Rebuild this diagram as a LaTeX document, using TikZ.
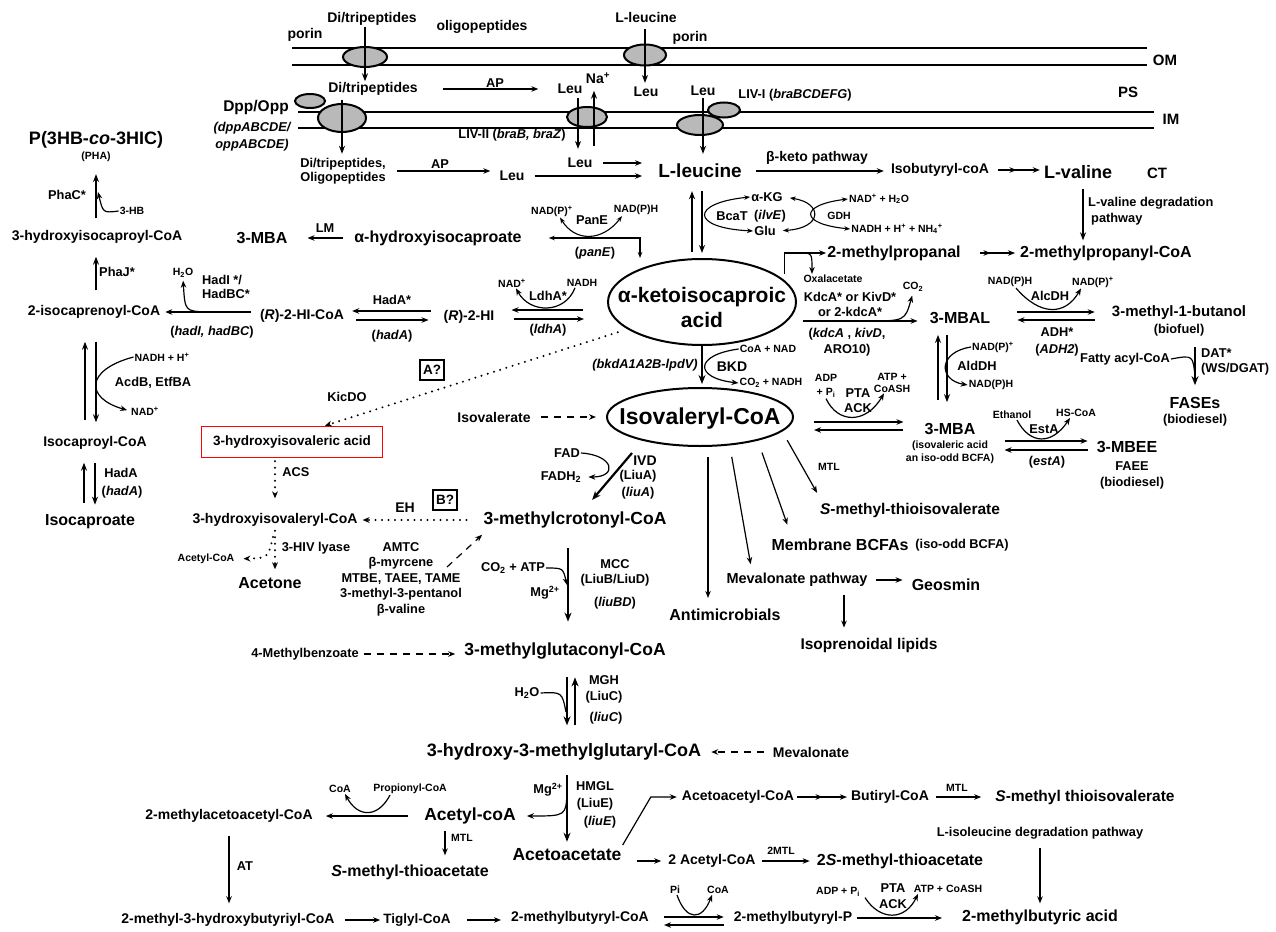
\documentclass[tikz,border=0pt]{standalone}
\usepackage{fontspec}
\setmainfont{Liberation Sans}
\usetikzlibrary{arrows.meta,shapes.geometric,decorations.markings}

\begin{document}
\begin{tikzpicture}[x=1pt,y=-1pt]
    \tikzstyle{cof}=[font=\fontsize{10.5}{12}\selectfont\bfseries,inner sep=1pt]
    \tikzstyle{enz}=[font=\fontsize{12.8}{15}\selectfont\bfseries,inner sep=1pt]
    \tikzstyle{mem}=[font=\fontsize{14}{16}\selectfont\bfseries,inner sep=1pt]
    \tikzstyle{met}=[font=\fontsize{14}{16}\selectfont\bfseries,inner sep=1pt]
    \tikzstyle{metS}=[font=\fontsize{15.5}{18}\selectfont\bfseries,inner sep=1pt]
    \tikzstyle{metM}=[font=\fontsize{16}{18}\selectfont\bfseries,inner sep=1pt]
    \tikzstyle{metL}=[font=\fontsize{17.5}{20}\selectfont\bfseries,inner sep=1pt]
    \tikzstyle{side}=[font=\fontsize{15}{17}\selectfont\bfseries,inner sep=1pt]
    \tikzstyle{qbox}=[draw,line width=1.2pt,font=\fontsize{13.5}{16}\selectfont\bfseries,minimum width=24pt,minimum height=20pt,inner sep=1pt]
    \tikzstyle{prot}=[ellipse,draw,line width=2pt,fill=gray!55,inner sep=0pt]
    \tikzstyle{pool}=[ellipse,draw,line width=2pt,inner sep=0pt]
    \tikzstyle{membr}=[line width=2.6pt]
    \tikzstyle{rx}=[-{Stealth[length=7pt,width=5.5pt]},line width=1.2pt]
    \tikzstyle{rxm}=[-{Stealth[length=8pt,width=6pt]},line width=1.7pt]
    \tikzstyle{rxb}=[{Stealth[length=6pt,width=4.5pt]}-{Stealth[length=6pt,width=4.5pt]},line width=1.1pt]
    \tikzstyle{rxthick}=[-{Stealth[length=9pt,width=7pt]},line width=2.2pt]
    \tikzstyle{dotarr}=[-{Stealth[length=7pt,width=6pt,line width=0pt]},line width=2.2pt,line cap=round,dash pattern=on 0pt off 6.5pt]
    \tikzstyle{dasharr}=[-{Stealth[length=7pt,width=5.5pt]},line width=1.2pt,dash pattern=on 7pt off 6pt]
    \tikzstyle{twostep}=[rx,postaction={decorate},decoration={markings,mark=at position 0.5 with {\arrow{Stealth[length=7pt,width=5.5pt]}}}]
    \path[use as bounding box,fill=white] (0,0) rectangle (1276,931);

    \draw[membr] (292,48) -- (1147,48);
    \draw[membr] (292,65) -- (1147,65);
    \draw[membr] (298,112) -- (1154,112);
    \draw[membr] (298,128) -- (1154,128);
    \node (por1)[prot,minimum width=44pt,minimum height=20pt] at (365,57) {};
    \node (por2)[prot,minimum width=42pt,minimum height=21pt] at (645,55) {};
    \node (dpp1)[prot,minimum width=30pt,minimum height=14pt] at (310,101) {};
    \node (dpp2)[prot,minimum width=48pt,minimum height=28pt] at (342,118) {};
    \node (liv2e)[prot,minimum width=40pt,minimum height=20pt] at (587,117) {};
    \node (liv1a)[prot,minimum width=32pt,minimum height=15pt] at (724,110) {};
    \node (liv1b)[prot,minimum width=46pt,minimum height=20pt] at (700,125) {};

    \node (porin1)[mem] at (305,35) {porin};
    \node (dit1)[mem] at (372,19) {Di/tripeptides};
    \node (oligo)[mem] at (482,27) {oligopeptides};
    \node (leutop)[mem] at (646,17) {L-leucine};
    \node (porin2)[mem] at (690,38) {porin};
    \node (om)[side] at (1165,60) {OM};
    \node (ps)[side] at (1128,92) {PS};
    \node (im)[side] at (1171,119) {IM};
    \node (ct)[side] at (1157,173) {CT};
    \node (dit2)[mem] at (373,89) {Di/tripeptides};
    \node (dpp)[metS] at (256,107) {Dpp/Opp};
    \node (dppg)[enz,align=center,font=\fontsize{12.8}{17}\selectfont\bfseries\itshape] at (252,137) {(dppABCDE/\\oppABCDE)};
    \node (dit3)[enz,align=center,font=\fontsize{12.8}{14}\selectfont\bfseries] at (343,171) {Di/tripeptides,\\Oligopeptides};
    \node (ap1)[enz] at (495,83) {AP};
    \node (ap2)[enz] at (440,164) {AP};
    \node (leu1)[mem] at (570,89) {Leu};
    \node (na)[mem] at (598,78) {Na\textsuperscript{+}};
    \node (leu2)[mem] at (646,92) {Leu};
    \node (leu3)[mem] at (703,91) {Leu};
    \node (liv1)[enz] at (795,95) {LIV-I (\textit{braBCDEFG})};
    \node (liv2)[enz] at (512,135) {LIV-II (\textit{braB, braZ})};
    \node (leu4)[mem] at (580,163) {Leu};
    \node (leu5)[mem] at (512,176) {Leu};
    \node (lleu)[font=\fontsize{19}{22}\selectfont\bfseries,inner sep=1pt] at (700,171) {L-leucine};
    \node (bketo)[mem] at (817,158) {β-keto pathway};
    \node (isob)[met] at (940,170) {Isobutyryl-coA};
    \node (lval)[font=\fontsize{18}{21}\selectfont\bfseries,inner sep=1pt] at (1078,172) {L-valine};
    \node (valdeg)[enz,align=left,anchor=west,font=\fontsize{12.8}{16}\selectfont\bfseries] at (1087,211) {L-valine degradation\\\hspace{3pt}pathway};
    \node (mpropanal)[metM] at (894,253) {2-methylpropanal};
    \node (mpropcoa)[metM] at (1106,253) {2-methylpropanyl-CoA};
    \node (akg)[enz] at (767,197) {α-KG};
    \node (bcat)[enz] at (732,216) {BcaT};
    \node (ilve)[enz] at (770,216) {(\textit{ilvE})};
    \node (glu)[enz] at (765,231) {Glu};
    \node (gdh)[cof] at (839,216) {GDH};
    \node (nadh2o)[cof] at (879,199) {NAD\textsuperscript{+} + H\textsubscript{2}O};
    \node (nadhnh)[cof] at (897,229) {NADH + H\textsuperscript{+} + NH\textsubscript{4}\textsuperscript{+}};
    \node (nadpp1)[cof] at (552,211) {NAD(P)\textsuperscript{+}};
    \node (nadph1)[cof] at (636,210) {NAD(P)H};
    \node (pane)[enz] at (592,220) {PanE};
    \node (paneg)[enz] at (595,253) {(\textit{panE})};
    \node (ahic)[metM] at (438,238) {α-hydroxyisocaproate};
    \node (mba1)[metM] at (262,238) {3-MBA};
    \node (lm)[enz] at (325,228) {LM};
    \node (kic)[pool,minimum width=188pt,minimum height=86pt] at (702,302) {};
    \node (kict)[font=\fontsize{21}{25}\selectfont\bfseries,align=center] at (702,307) {α-ketoisocaproic\\acid};
    \node (ivcoa)[pool,minimum width=186pt,minimum height=58pt] at (700,417) {};
    \node (ivct)[font=\fontsize{23}{26}\selectfont\bfseries] at (700,419) {Isovaleryl-CoA};

    \node (pha)[font=\fontsize{18}{21}\selectfont\bfseries,inner sep=1pt] at (96,140) {P(3HB-\textit{co}-3HIC)};
    \node (phab)[cof] at (96,157) {(PHA)};
    \node (phac)[enz] at (67,195) {PhaC*};
    \node (hb)[cof] at (132,211) {3-HB};
    \node (hicoa)[met] at (97,237) {3-hydroxyisocaproyl-CoA};
    \node (phaj)[enz] at (117,272) {PhaJ*};
    \node (icoa)[met] at (94,312) {2-isocaprenoyl-CoA};
    \node (h2o1)[cof] at (183,273) {H\textsubscript{2}O};
    \node (hadi)[enz,align=left,anchor=west,font=\fontsize{12.8}{14}\selectfont\bfseries] at (201,287) {HadI */\\HadBC*};
    \node (hadig)[enz] at (212,332) {(\textit{hadI, hadBC})};
    \node (rhicoa)[met] at (302,316) {(\textit{R})-2-HI-CoA};
    \node (hada1)[enz] at (392,300) {HadA*};
    \node (hadag1)[enz] at (392,336) {(\textit{hadA})};
    \node (rhi)[met] at (469,317) {(\textit{R})-2-HI};
    \node (nad1)[cof] at (512,283) {NAD\textsuperscript{+}};
    \node (nadh1)[cof] at (582,283) {NADH};
    \node (ldha)[enz] at (548,296) {LdhA*};
    \node (ldhag)[enz] at (548,330) {(\textit{ldhA})};
    \node (nadhh)[cof] at (162,357) {NADH + H\textsuperscript{+}};
    \node (acdb)[enz] at (153,383) {AcdB, EtfBA};
    \node (nad2)[cof] at (145,411) {NAD\textsuperscript{+}};
    \node (iccoa)[met] at (95,443) {Isocaproyl-CoA};
    \node (hada2)[enz] at (121,473) {HadA};
    \node (hadag2)[enz] at (122,492) {(\textit{hadA})};
    \node (icap)[metM] at (90,522) {Isocaproate};
    \node (abox)[qbox] at (432,370) {A?};
    \node (kicdo)[enz] at (347,397) {KicDO};
    \node (hiva)[font=\fontsize{13.5}{16}\selectfont\bfseries,draw=red,line width=1.6pt,minimum width=181pt,minimum height=31pt,inner sep=1pt] at (292,442) {3-hydroxyisovaleric acid};

    \node (coanad)[cof] at (768,349) {CoA + NAD};
    \node (bkd)[mem] at (732,367) {BKD};
    \node (co2nadh)[cof] at (771,383) {CO\textsubscript{2} + NADH};
    \node (bkdg)[enz,font=\fontsize{12.8}{15}\selectfont\bfseries\itshape] at (645,365) {(bkdA1A2B-lpdV)};
    \node (isoval)[met] at (494,417) {Isovalerate};
    \node (oxal)[cof] at (833,279) {Oxalacetate};
    \node (kdca)[enz,align=center] at (850,304.5) {KdcA* or KivD*\\or 2-kdcA*};
    \node (co2a)[cof] at (913,287) {CO\textsubscript{2}};
    \node (kdcag)[enz,align=center,font=\fontsize{12.8}{16}\selectfont\bfseries] at (847,342) {(\textit{kdcA} , \textit{kivD},\\ARO10)};
    \node (mbal)[metM] at (960,318) {3-MBAL};
    \node (nadph2)[cof] at (1010,282) {NAD(P)H};
    \node (nadpp2)[cof] at (1093,282) {NAD(P)\textsuperscript{+}};
    \node (alcdh)[enz] at (1050,296) {AlcDH};
    \node (adh)[enz,align=center,font=\fontsize{12.8}{17}\selectfont\bfseries] at (1057,341.5) {ADH*\\(\textit{ADH2})};
    \node (mbut)[side] at (1179,313) {3-methyl-1-butanol};
    \node (biofuel)[enz] at (1179,330) {(biofuel)};
    \node (nadpp3)[cof] at (993,347) {NAD(P)\textsuperscript{+}};
    \node (alddh)[enz] at (977,366) {AldDH};
    \node (nadph3)[cof] at (991,385) {NAD(P)H};
    \node (fatty)[enz] at (1125,359) {Fatty acyl-CoA};
    \node (dat)[enz,align=left,anchor=west] at (1200,362) {DAT*\\(WS/DGAT)};
    \node (fases)[metM] at (1195,403) {FASEs};
    \node (biod1)[enz] at (1195,420) {(biodiesel)};
    \node (adp1)[cof,align=center,font=\fontsize{10.5}{14}\selectfont\bfseries] at (826,386) {ADP\\+ P\textsubscript{i}};
    \node (pta1)[enz,align=center] at (858,400.5) {PTA\\ACK};
    \node (atp1)[cof,align=center] at (892,382.5) {ATP +\\CoASH};
    \node (mba2)[metM] at (950,429) {3-MBA};
    \node (mba2b)[cof,align=center,font=\fontsize{10.5}{13}\selectfont\bfseries] at (950,452.5) {(isovaleric acid\\an iso-odd BCFA)};
    \node (ethanol)[cof] at (1012,415) {Ethanol};
    \node (hscoa)[cof] at (1076,413) {HS-CoA};
    \node (esta)[enz] at (1044,429) {EstA};
    \node (estag)[enz] at (1047,462) {(\textit{estA})};
    \node (mbee)[metM] at (1127,447) {3-MBEE};
    \node (faee)[enz,align=center,font=\fontsize{12.8}{16}\selectfont\bfseries] at (1132,475) {FAEE\\(biodiesel)};

    \node (fad)[enz] at (567,453) {FAD};
    \node (fadh)[enz] at (561,477) {FADH\textsubscript{2}};
    \node (ivd)[mem] at (645,461) {IVD};
    \node (liua)[enz] at (638,476) {(LiuA)};
    \node (liuag)[enz] at (638,493) {(\textit{liuA})};
    \node (acs)[enz] at (296,472) {ACS};
    \node (hivcoa)[met] at (275,520) {3-hydroxyisovaleryl-CoA};
    \node (eh)[mem] at (405,508) {EH};
    \node (bbox)[qbox] at (445,500) {B?};
    \node (mccoa)[metL] at (575,520) {3-methylcrotonyl-CoA};
    \node (hivl)[enz] at (316,548) {3-HIV lyase};
    \node (acetylcoa1)[cof] at (206,559) {Acetyl-CoA};
    \node (acetone)[metM] at (270,583) {Acetone};
    \node (amtc)[enz,align=center,font=\fontsize{12.8}{15.5}\selectfont\bfseries] at (401,579) {AMTC\\β-myrcene\\MTBE, TAEE, TAME\\3-methyl-3-pentanol\\β-valine};
    \node (co2atp)[enz] at (513,568) {CO\textsubscript{2} + ATP};
    \node (mg1)[enz] at (545,593) {Mg\textsuperscript{2+}};
    \node (mcce)[enz,align=center] at (615,572.5) {MCC\\(LiuB/LiuD)};
    \node (liubd)[enz] at (615,603) {(\textit{liuBD})};
    \node (mgcoa)[metL] at (565,651) {3-methylglutaconyl-CoA};
    \node (mbenz)[enz] at (305,654) {4-Methylbenzoate};
    \node (h2o2)[enz] at (527,693) {H\textsubscript{2}O};
    \node (mgh)[enz,align=center,font=\fontsize{12.8}{16}\selectfont\bfseries] at (604,689) {MGH\\(LiuC)};
    \node (liucg)[enz] at (606,718) {(\textit{liuC})};
    \node (hmgcoa)[font=\fontsize{18}{21}\selectfont\bfseries,inner sep=1pt] at (564,752) {3-hydroxy-3-methylglutaryl-CoA};
    \node (meval)[met] at (811,752) {Mevalonate};
    \node (mg2)[enz] at (548,790) {Mg\textsuperscript{2+}};
    \node (hmgl)[enz,align=center,font=\fontsize{12.8}{17}\selectfont\bfseries] at (595,795.5) {HMGL\\(LiuE)};
    \node (liueg)[enz] at (600,822) {(\textit{liuE})};
    \node (acoa)[metL] at (470,816) {Acetyl-coA};
    \node (mtl1)[cof] at (462,838) {MTL};
    \node (smta)[metM] at (410,872) {\textit{S}-methyl-thioacetate};
    \node (acac)[metL] at (567,855) {Acetoacetate};
    \node (aacoa)[met] at (738,797) {Acetoacetyl-CoA};
    \node (butcoa)[met] at (890,797) {Butiryl-CoA};
    \node (mtl2)[cof] at (957,788) {MTL};
    \node (smtiv)[metS] at (1085,797) {\textit{S}-methyl thioisovalerate};
    \node (ileu)[enz] at (1040,833) {L-isoleucine degradation pathway};
    \node (mbutac)[metM] at (1040,917) {2-methylbutyric acid};
    \node (acoa2)[met] at (712,861) {2 Acetyl-CoA};
    \node (mtl3)[cof] at (781,851) {2MTL};
    \node (s2mta)[metM] at (900,861) {2\textit{S}-methyl-thioacetate};
    \node (macoa)[met] at (229,816) {2-methylacetoacetyl-CoA};
    \node (coa1)[cof] at (340,789) {CoA};
    \node (propcoa)[cof] at (410,789) {Propionyl-CoA};
    \node (atlab)[enz] at (245,866) {AT};
    \node (mhbcoa)[met] at (228,920) {2-methyl-3-hydroxybutyriyl-CoA};
    \node (tigcoa)[met,font=\fontsize{13.5}{16}\selectfont\bfseries] at (417,920) {Tiglyl-CoA};
    \node (mbcoa)[met] at (580,918) {2-methylbutyryl-CoA};
    \node (pin)[cof] at (675,890) {Pi};
    \node (coa2)[cof] at (718,890) {CoA};
    \node (mbp)[met] at (793,918) {2-methylbutyryl-P};
    \node (adp2)[cof] at (838,892) {ADP + P\textsubscript{i}};
    \node (pta2)[enz,align=center,font=\fontsize{12.8}{16}\selectfont\bfseries] at (893,896) {PTA\\ACK};
    \node (atp2)[cof] at (948,889) {ATP + CoASH};
    \node (mtl4)[cof] at (829,467) {MTL};
    \node (smtiv2)[metS] at (910,510) {\textit{S}-methyl-thioisovalerate};
    \node (memb)[metM] at (840,545) {Membrane BCFAs};
    \node (isoodd)[enz] at (962,545) {(iso-odd BCFA)};
    \node (mevp)[font=\fontsize{14.5}{17}\selectfont\bfseries,inner sep=1pt] at (797,580) {Mevalonate pathway};
    \node (geos)[metM] at (946,585) {Geosmin};
    \node (ipl)[metS] at (869,645) {Isoprenoidal lipids};
    \node (antim)[metM] at (725,615) {Antimicrobials};

    \coordinate (nabot) at (594,146);
    \coordinate (phajoin) at (98,192);
    \coordinate (hadijoin) at (206,312);
    \coordinate (hivjoin) at (273,537);
    \coordinate (amtcend) at (447,567);
    \coordinate (propjoin) at (800,253);
    \coordinate (kdcjoin) at (866,321);
    \coordinate (datjoin) at (1195,377);
    \coordinate (mccjoin) at (567,585);
    \coordinate (mghjoin) at (566,712);
    \coordinate (hmgljoin) at (567,792);

    \draw[rxm] (dit1.south -| por1) -- (dit2.north -| por1);
    \draw[rxm,shorten <=6pt,shorten >=3pt] (leutop.south -| por2) -- (leu2.north -| por2);
    \draw[rxm,shorten <=3pt,shorten >=3pt] (dit2.south -| dpp2) -- (dit3.north -| dpp2);
    \draw[rx,shorten <=24pt,shorten >=18pt] (dit2.east) -- (dit2.east -| leu1.west);
    \draw[rx,shorten <=10pt,shorten >=8pt] (dit3.east) -- (dit3.east -| leu5.west);
    \draw[rxm,shorten <=3pt,shorten >=8pt] ([xshift=8pt]leu1.south) -- ([xshift=-2pt]leu4.north);
    \draw[rxm,shorten >=6pt] (nabot) -- ([xshift=-4pt]na.south);
    \draw[rxm,shorten <=1pt,shorten >=9pt] (leu3.south) -- (leu3.south |- lleu.north);
    \draw[rx,shorten <=9pt,shorten >=15pt] (leu4.east) -- (leu4.east -| lleu.west);
    \draw[rx,shorten <=9pt,shorten >=15pt] (leu5.east) -- (leu5.east -| lleu.west);

    \draw[rx,shorten <=13pt,shorten >=6pt] (lleu.east) -- (lleu.east -| isob.west);
    \draw[twostep,shorten <=8pt,shorten >=3pt] (isob.east) -- (isob.east -| lval.west);
    \draw[rxm,shorten <=9pt,shorten >=4pt] ([xshift=5pt]lval.south) -- ([xshift=5pt]lval.south |- mpropcoa.north);
    \draw[rxm,shorten <=6pt,shorten >=12pt] ([xshift=-10pt]kic.north) -- ([xshift=-8pt]lleu.south);
    \draw[rxm,shorten <=12pt,shorten >=5pt] ([xshift=2pt]lleu.south) -- (kic.north);
    \draw[rxb] (akg.west) .. controls (690,203) and (690,228) .. (glu.west);
    \draw[rxb,shorten <=6pt,shorten >=6pt] (akg.east) .. controls (823,203) and (823,228) .. (glu.east);
    \draw[rxb] (nadh2o.west) .. controls (799,205) and (799,224) .. (nadhnh.west);

    \draw[rxb,shorten <=26pt] (ahic.east) -| ([xshift=-62pt]kic.north);
    \draw[rxb] ([xshift=8pt]nadpp1.south) .. controls (575,242) and (602,242) .. ([xshift=-14pt]nadph1.south);
    \draw[rx,shorten <=10pt,shorten >=19pt] (ahic.west) -- (ahic.west -| mba1.east);

    \draw[rxm,shorten <=11pt,shorten >=11pt] (hicoa.north -| phab) -- (phab.south);
    \draw[rx] (hb.west) .. controls (103,213) .. (phajoin);
    \draw[rxm,shorten <=14pt,shorten >=12pt] ([xshift=2pt]icoa.north) -- ([xshift=2pt]icoa.north |- hicoa.south);
    \draw[rx,shorten <=8pt,shorten >=4pt] (icoa.east -| rhicoa.west) -- (icoa.east);
    \draw[rx,shorten >=2pt] (hadijoin) .. controls (185,311) .. (h2o1.south);
    \draw[rx,shorten <=12pt,shorten >=7pt] ([yshift=6pt]rhi.west) -- ([yshift=6pt]rhi.west -| rhicoa.east);
    \draw[rx,shorten <=11pt,shorten >=14pt] ([yshift=-3pt]rhi.west -| rhicoa.east) -- ([yshift=-3pt]rhi.west);
    \draw[rx,shorten <=24pt,shorten >=16pt] ([yshift=7pt]rhi.east -| kic.west) -- ([yshift=7pt]rhi.east);
    \draw[rx,shorten <=19pt,shorten >=23pt] ([yshift=-2pt]rhi.east) -- ([yshift=-2pt]rhi.east -| kic.west);
    \draw[rx] ([xshift=-7pt]nadh1.south) .. controls (565,314) and (530,314) .. ([xshift=4pt]nad1.south);

    \draw[rxm,shorten <=15pt,shorten >=22pt] ([xshift=-10pt]iccoa.north) -- ([xshift=-10pt]iccoa.north |- icoa.south);
    \draw[rxm,shorten <=22pt,shorten >=13pt] ([xshift=1pt]iccoa.north |- icoa.south) -- ([xshift=1pt]iccoa.north);
    \draw[rx,shorten >=3pt] (nadhh.west) .. controls (85,370) and (85,398) .. (nad2.west);
    \draw[rxm,shorten <=11pt,shorten >=12pt] ([xshift=-6pt]icap.north) -- ([xshift=-6pt]icap.north |- iccoa.south);
    \draw[rxm,shorten <=12pt,shorten >=9pt] ([xshift=5pt]icap.north |- iccoa.south) -- ([xshift=5pt]icap.north);

    \draw[dotarr,shorten <=10pt] (kic.200) -- ([xshift=33pt]hiva.north);
    \draw[dotarr,shorten <=3pt,shorten >=14pt] ([xshift=-17pt]hiva.south) -- ([xshift=-17pt]hiva.south |- hivcoa.north);
    \draw[dotarr,shorten <=16pt,shorten >=4pt] (mccoa.west) -- (mccoa.west -| hivcoa.east);
    \draw[dotarr,shorten <=3pt,shorten >=7pt] (hivcoa.south) -- (hivcoa.south |- acetone.north);
    \draw[dotarr,shorten >=8pt] (hivjoin) .. controls (268,558) .. (acetylcoa1.east);
    \draw[dasharr,shorten >=8pt] (amtcend) -- ([xshift=-87pt]mccoa.south);

    \draw[rxthick,shorten >=14pt] ([xshift=-68pt,yshift=-6pt]ivcoa.south) -- ([xshift=8pt]mccoa.north);
    \draw[rx,shorten >=6pt] (fad.east) .. controls (614,455) and (618,477) .. (fadh.east);
    \draw[rxthick,shorten >=3pt] (kic.south) -- (kic.south |- ivcoa.north);
    \draw[rx] (coanad.west) .. controls (694,355) and (694,378) .. (co2nadh.west);
    \draw[dasharr,shorten <=9pt,shorten >=10pt] (isoval.east) -- (ivcoa.west);

    \draw[rx,shorten <=6pt] (kic.15) |- (mpropanal.west);
    \draw[rx] (propjoin) .. controls (812,253) .. ([xshift=-21pt]oxal.north);
    \draw[twostep,shorten <=18pt,shorten >=4pt] (mpropanal.east) -- (mpropcoa.west);
    \draw[rx,shorten <=6pt,shorten >=11pt] ([yshift=-19pt]kic.east) -- ([yshift=-19pt]kic.east -| mbal.west);
    \draw[rx,shorten >=3pt] (kdcjoin) .. controls (905,321) .. (co2a.south);
    \draw[rx,shorten <=26pt,shorten >=16pt] ([yshift=6pt]mbal.east) -- ([yshift=6pt]mbal.east -| mbut.west);
    \draw[rx,shorten <=16pt,shorten >=26pt] ([yshift=-2pt]mbal.east -| mbut.west) -- ([yshift=-2pt]mbal.east);
    \draw[rx] ([xshift=6pt]nadph2.south) .. controls (1040,316) and (1065,316) .. ([xshift=-12pt]nadpp2.south);
    \draw[rxm,shorten <=22pt,shorten >=10pt] ([xshift=-12pt]mba2.north) -- ([xshift=-12pt]mba2.north |- mbal.south);
    \draw[rxm,shorten <=10pt,shorten >=20pt] ([xshift=-3pt]mba2.north |- mbal.south) -- ([xshift=-3pt]mba2.north);
    \draw[rx] (nadpp3.west) .. controls (938,352) and (938,380) .. (nadph3.west);
    \draw[rxthick,shorten <=10pt,shorten >=11pt] (biofuel.south -| fases.north) -- (fases.north);
    \draw[line width=1.2pt] (fatty.east) .. controls (1193,355) .. (datjoin);

    \draw[rx,shorten <=20pt,shorten >=20pt] ([yshift=-5pt]ivcoa.east) -- ([yshift=-5pt]ivcoa.east -| mba2.west);
    \draw[rx,shorten <=20pt,shorten >=20pt] ([yshift=-13pt]ivcoa.east -| mba2.west) -- ([yshift=-13pt]ivcoa.east);
    \draw[rx] (adp1.south) .. controls (838,424) and (866,424) .. ([xshift=-8pt]atp1.south);
    \draw[rx,shorten <=28pt,shorten >=8pt] ([yshift=6pt]mbee.west -| mba2.east) -- ([yshift=6pt]mbee.west);
    \draw[rx,shorten <=8pt,shorten >=28pt] ([yshift=-3pt]mbee.west) -- ([yshift=-3pt]mbee.west -| mba2.east);
    \draw[rx] ([xshift=5pt]ethanol.south) .. controls (1030,445) and (1052,445) .. ([xshift=-6pt]hscoa.south);

    \draw[rx,shorten <=10pt,shorten >=10pt] ([xshift=8pt]ivcoa.south) -- ([xshift=8pt]ivcoa.south |- antim.north);
    \draw[rx,shorten <=10pt,shorten >=8pt] ([xshift=30pt]ivcoa.south) -- ([xshift=-45pt]mevp.north);
    \draw[rx,shorten <=6pt,shorten >=14pt] ([xshift=60pt]ivcoa.south) -- ([xshift=-48pt]memb.north);
    \draw[rx,shorten <=10pt,shorten >=10pt] (ivcoa.-10) -- ([xshift=-88pt]smtiv2.north);
    \draw[rx,shorten <=7pt,shorten >=8pt] (mevp.east) -- (mevp.east -| geos.west);
    \draw[rx,shorten <=7pt,shorten >=9pt] ([xshift=47pt]mevp.south) -- ([xshift=47pt]mevp.south |- ipl.north);

    \draw[rxthick,shorten <=19pt,shorten >=20pt] ([xshift=-7pt]mccoa.south) -- ([xshift=-7pt]mccoa.south |- mgcoa.north);
    \draw[rx] (co2atp.east) .. controls (563,568) .. (mccjoin);
    \draw[dasharr,shorten <=4pt,shorten >=8pt] (mbenz.east) -- (mbenz.east -| mgcoa.west);
    \draw[rxthick,shorten <=17pt,shorten >=17pt] ([xshift=2pt]mgcoa.south) -- ([xshift=2pt]mgcoa.south |- hmgcoa.north);
    \draw[rxthick,shorten <=17pt,shorten >=17pt] ([xshift=10pt]mgcoa.south |- hmgcoa.north) -- ([xshift=10pt]mgcoa.south);
    \draw[line width=1.2pt] (h2o2.east) .. controls (562,692) .. (mghjoin);
    \draw[dasharr,shorten <=8pt,shorten >=9pt] (meval.west) -- (hmgcoa.east);
    \draw[rxthick,shorten <=13pt,shorten >=6pt] ([xshift=3pt]hmgcoa.south) -- ([xshift=3pt]hmgcoa.south |- acac.north);
    \draw[rx,shorten >=10pt] (hmgljoin) .. controls (566,816) .. (acoa.east);
    \draw[rx,shorten <=6pt,shorten >=8pt] ([xshift=-25pt]acoa.south) -- ([xshift=-25pt]acoa.south |- smta.north);
    \draw[rx,shorten <=15pt,shorten >=12pt] (acoa.west) -- (acoa.west -| macoa.east);
    \draw[rx] ([xshift=-20pt]propcoa.south) .. controls (378,818) and (358,818) .. ([xshift=5pt]coa1.south);
    \draw[rx,shorten <=12pt,shorten >=9pt] (macoa.south) -- (macoa.south |- mhbcoa.north);
    \draw[rx,shorten <=9pt,shorten >=2pt] (mhbcoa.east) -- (tigcoa.west);
    \draw[rx,shorten <=15pt,shorten >=9pt] (tigcoa.east) -- (tigcoa.east -| mbcoa.west);
    \draw[rx,shorten <=14pt,shorten >=9pt] ([yshift=1pt]mbcoa.east) -- ([yshift=1pt]mbcoa.east -| mbp.west);
    \draw[rx,shorten <=9pt,shorten >=14pt] ([yshift=-7pt]mbcoa.east -| mbp.west) -- ([yshift=-7pt]mbcoa.east);
    \draw[rx] ([xshift=2pt]pin.south) .. controls (686,921) and (702,921) .. ([xshift=-6pt]coa2.south);
    \draw[rx,shorten <=4pt,shorten >=19pt] (mbp.east) -- (mbp.east -| mbutac.west);
    \draw[rx] ([xshift=27pt]adp2.south) .. controls (880,921) and (905,921) .. ([xshift=-30pt]atp2.south);
    \draw[rx,shorten <=8pt,shorten >=5pt] (ileu.south) -- (ileu.south |- mbutac.north);
    \draw[rx,shorten <=14pt,shorten >=6pt] (acoa2.west -| acac.east) -- (acoa2.west);
    \draw[rx,shorten <=5pt,shorten >=6pt] (acoa2.east) -- (acoa2.east -| s2mta.west);
    \draw[rx,shorten >=4pt] ([yshift=10pt]acac.east) -- ([xshift=-30pt]aacoa.west) -- (aacoa.west);
    \draw[twostep,shorten <=2pt,shorten >=3pt] (aacoa.east) -- (aacoa.east -| butcoa.west);
    \draw[rx,shorten <=6pt,shorten >=13pt] (butcoa.east) -- (butcoa.east -| smtiv.west);
\end{tikzpicture}
\end{document}
